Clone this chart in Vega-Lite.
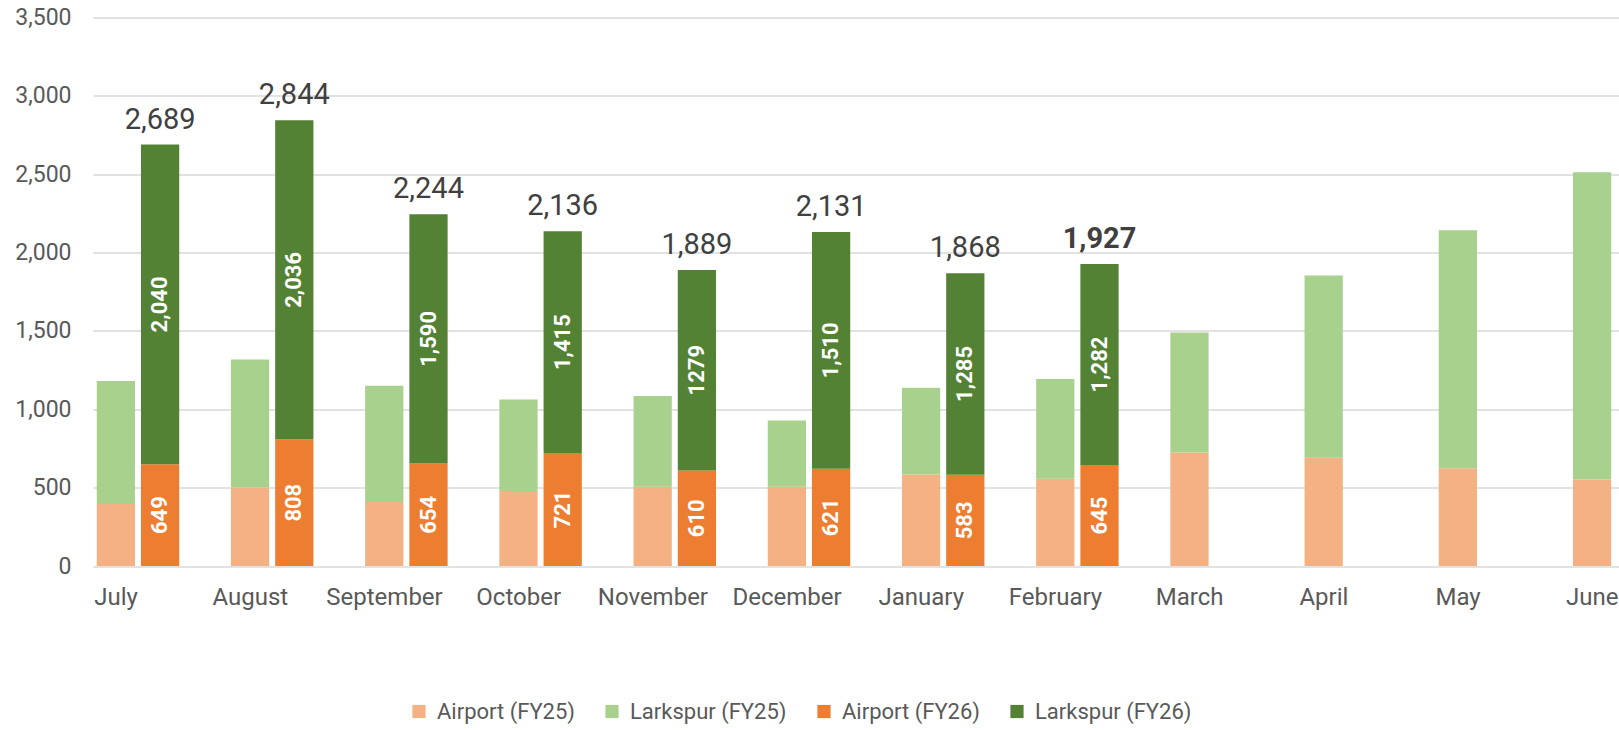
{
  "$schema": "https://vega.github.io/schema/vega-lite/v6.json",
  "autosize": "none",
  "width": 1526,
  "height": 548.5,
  "padding": {"left": 93, "top": 17.5, "right": 0, "bottom": 164},
  "background": "white",
  "config": {
    "font": "Roboto",
    "view": {"stroke": null}
  },
  "data": {
    "values": [
      {"month": "July", "fy": "FY25", "site": "Airport", "series": "Airport (FY25)", "value": 396},
      {"month": "July", "fy": "FY25", "site": "Larkspur", "series": "Larkspur (FY25)", "value": 784},
      {"month": "August", "fy": "FY25", "site": "Airport", "series": "Airport (FY25)", "value": 501},
      {"month": "August", "fy": "FY25", "site": "Larkspur", "series": "Larkspur (FY25)", "value": 816},
      {"month": "September", "fy": "FY25", "site": "Airport", "series": "Airport (FY25)", "value": 408},
      {"month": "September", "fy": "FY25", "site": "Larkspur", "series": "Larkspur (FY25)", "value": 742},
      {"month": "October", "fy": "FY25", "site": "Airport", "series": "Airport (FY25)", "value": 479},
      {"month": "October", "fy": "FY25", "site": "Larkspur", "series": "Larkspur (FY25)", "value": 583},
      {"month": "November", "fy": "FY25", "site": "Airport", "series": "Airport (FY25)", "value": 506},
      {"month": "November", "fy": "FY25", "site": "Larkspur", "series": "Larkspur (FY25)", "value": 578},
      {"month": "December", "fy": "FY25", "site": "Airport", "series": "Airport (FY25)", "value": 506},
      {"month": "December", "fy": "FY25", "site": "Larkspur", "series": "Larkspur (FY25)", "value": 422},
      {"month": "January", "fy": "FY25", "site": "Airport", "series": "Airport (FY25)", "value": 584},
      {"month": "January", "fy": "FY25", "site": "Larkspur", "series": "Larkspur (FY25)", "value": 554},
      {"month": "February", "fy": "FY25", "site": "Airport", "series": "Airport (FY25)", "value": 557},
      {"month": "February", "fy": "FY25", "site": "Larkspur", "series": "Larkspur (FY25)", "value": 637},
      {"month": "March", "fy": "FY25", "site": "Airport", "series": "Airport (FY25)", "value": 725},
      {"month": "March", "fy": "FY25", "site": "Larkspur", "series": "Larkspur (FY25)", "value": 765},
      {"month": "April", "fy": "FY25", "site": "Airport", "series": "Airport (FY25)", "value": 691},
      {"month": "April", "fy": "FY25", "site": "Larkspur", "series": "Larkspur (FY25)", "value": 1163},
      {"month": "May", "fy": "FY25", "site": "Airport", "series": "Airport (FY25)", "value": 623},
      {"month": "May", "fy": "FY25", "site": "Larkspur", "series": "Larkspur (FY25)", "value": 1519},
      {"month": "June", "fy": "FY25", "site": "Airport", "series": "Airport (FY25)", "value": 552},
      {"month": "June", "fy": "FY25", "site": "Larkspur", "series": "Larkspur (FY25)", "value": 1961},
      {"month": "July", "fy": "FY26", "site": "Airport", "series": "Airport (FY26)", "value": 649, "label": "649"},
      {"month": "July", "fy": "FY26", "site": "Larkspur", "series": "Larkspur (FY26)", "value": 2040, "label": "2,040"},
      {"month": "August", "fy": "FY26", "site": "Airport", "series": "Airport (FY26)", "value": 808, "label": "808"},
      {"month": "August", "fy": "FY26", "site": "Larkspur", "series": "Larkspur (FY26)", "value": 2036, "label": "2,036"},
      {"month": "September", "fy": "FY26", "site": "Airport", "series": "Airport (FY26)", "value": 654, "label": "654"},
      {"month": "September", "fy": "FY26", "site": "Larkspur", "series": "Larkspur (FY26)", "value": 1590, "label": "1,590"},
      {"month": "October", "fy": "FY26", "site": "Airport", "series": "Airport (FY26)", "value": 721, "label": "721"},
      {"month": "October", "fy": "FY26", "site": "Larkspur", "series": "Larkspur (FY26)", "value": 1415, "label": "1,415"},
      {"month": "November", "fy": "FY26", "site": "Airport", "series": "Airport (FY26)", "value": 610, "label": "610"},
      {"month": "November", "fy": "FY26", "site": "Larkspur", "series": "Larkspur (FY26)", "value": 1279, "label": "1279"},
      {"month": "December", "fy": "FY26", "site": "Airport", "series": "Airport (FY26)", "value": 621, "label": "621"},
      {"month": "December", "fy": "FY26", "site": "Larkspur", "series": "Larkspur (FY26)", "value": 1510, "label": "1,510"},
      {"month": "January", "fy": "FY26", "site": "Airport", "series": "Airport (FY26)", "value": 583, "label": "583"},
      {"month": "January", "fy": "FY26", "site": "Larkspur", "series": "Larkspur (FY26)", "value": 1285, "label": "1,285"},
      {"month": "February", "fy": "FY26", "site": "Airport", "series": "Airport (FY26)", "value": 645, "label": "645"},
      {"month": "February", "fy": "FY26", "site": "Larkspur", "series": "Larkspur (FY26)", "value": 1282, "label": "1,282"}
    ]
  },
  "encoding": {
    "x": {
      "field": "month",
      "type": "nominal",
      "sort": ["July", "August", "September", "October", "November", "December", "January", "February", "March", "April", "May", "June"],
      "scale": {"range": [0, 1610.4], "paddingInner": 0, "paddingOuter": 0},
      "axis": {
        "title": null,
        "labelAngle": 0,
        "labelOffset": -44,
        "domain": false,
        "ticks": false,
        "grid": false,
        "labelFontSize": 24,
        "labelColor": "#595959",
        "labelPadding": 19,
        "labelOverlap": false,
        "labelBound": false
      }
    },
    "xOffset": {
      "field": "fy",
      "type": "nominal",
      "scale": {"domain": ["FY25", "FY26", "pad"], "paddingInner": 0.135, "paddingOuter": 0.085}
    }
  },
  "layer": [
    {
      "mark": {"type": "bar"},
      "encoding": {
        "y": {
          "field": "value",
          "type": "quantitative",
          "aggregate": "sum",
          "stack": "zero",
          "scale": {"domain": [0, 3500], "nice": false},
          "axis": {
            "title": null,
            "values": [0, 500, 1000, 1500, 2000, 2500, 3000, 3500],
            "format": ",d",
            "domain": false,
            "ticks": false,
            "gridColor": "#d9d9d9",
            "gridWidth": 1.5,
            "labelFontSize": 23,
            "labelColor": "#595959",
            "labelPadding": 22
          }
        },
        "color": {
          "field": "series",
          "type": "nominal",
          "scale": {
            "domain": ["Airport (FY25)", "Larkspur (FY25)", "Airport (FY26)", "Larkspur (FY26)"],
            "range": ["#F4B183", "#A9D18E", "#ED7D31", "#548235"]
          },
          "legend": {
            "title": null,
            "orient": "none",
            "direction": "horizontal",
            "legendX": 315,
            "legendY": 683,
            "symbolType": "square",
            "symbolSize": 174,
            "symbolStrokeWidth": 0,
            "labelFontSize": 22,
            "labelColor": "#595959",
            "labelOffset": 7,
            "columnPadding": 26
          }
        },
        "order": {"field": "site", "sort": "ascending"}
      }
    },
    {
      "transform": [
        {"filter": "datum.fy === 'FY26'"},
        {"stack": "value", "groupby": ["month", "fy"], "sort": [{"field": "site", "order": "ascending"}], "as": ["y0", "y1"]},
        {"calculate": "(datum.y0 + datum.y1) / 2", "as": "mid"}
      ],
      "mark": {"type": "text", "angle": 270, "color": "white", "fontWeight": "bold", "fontSize": 22, "align": "center", "baseline": "middle"},
      "encoding": {
        "y": {"field": "mid", "type": "quantitative"},
        "text": {"field": "label"}
      }
    },
    {
      "transform": [
        {"filter": "datum.fy === 'FY26' && datum.month !== 'February'"},
        {"aggregate": [{"op": "sum", "field": "value", "as": "total"}], "groupby": ["month", "fy"]}
      ],
      "mark": {"type": "text", "color": "#404040", "fontSize": 29, "baseline": "alphabetic", "dy": -16},
      "encoding": {
        "y": {"field": "total", "type": "quantitative"},
        "text": {"field": "total", "format": ","}
      }
    },
    {
      "transform": [
        {"filter": "datum.fy === 'FY26' && datum.month === 'February'"},
        {"aggregate": [{"op": "sum", "field": "value", "as": "total"}], "groupby": ["month", "fy"]}
      ],
      "mark": {"type": "text", "color": "#404040", "fontSize": 29, "fontWeight": "bold", "baseline": "alphabetic", "dy": -16},
      "encoding": {
        "y": {"field": "total", "type": "quantitative"},
        "text": {"field": "total", "format": ","}
      }
    }
  ]
}
